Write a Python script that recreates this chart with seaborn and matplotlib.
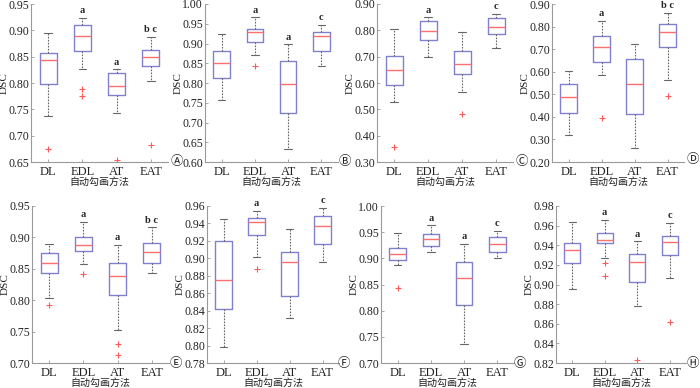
import matplotlib
matplotlib.use("Agg")
import matplotlib.pyplot as plt
import seaborn as sns

methods = ["DL", "EDL", "AT", "EAT"]

# each row: [lower whisker, Q1, median, Q3, upper whisker] for DL, EDL, AT, EAT
box_A = [[0.737, 0.798, 0.844, 0.857, 0.895],
         [0.826, 0.861, 0.890, 0.910, 0.923],
         [0.743, 0.777, 0.795, 0.819, 0.826],
         [0.804, 0.833, 0.850, 0.863, 0.888]]
fliers_A = [[0.675], [0.788, 0.776], [0.653], [0.683]]
marks_A = ["", "a", "a", "b c"]

box_B = [[0.756, 0.813, 0.851, 0.882, 0.925],
         [0.872, 0.904, 0.929, 0.937, 0.966],
         [0.632, 0.724, 0.798, 0.856, 0.898],
         [0.843, 0.881, 0.918, 0.928, 0.947]]
fliers_B = [[], [0.843], [], []]
marks_B = ["", "a", "a", "c"]

box_C = [[0.526, 0.592, 0.648, 0.702, 0.804],
         [0.697, 0.762, 0.796, 0.834, 0.849],
         [0.567, 0.634, 0.674, 0.722, 0.795],
         [0.734, 0.787, 0.814, 0.845, 0.862]]
fliers_C = [[0.356], [], [0.481], []]
marks_C = ["", "a", "", "c"]

box_D = [[0.321, 0.417, 0.486, 0.545, 0.601],
         [0.585, 0.644, 0.710, 0.760, 0.825],
         [0.263, 0.414, 0.545, 0.656, 0.725],
         [0.563, 0.708, 0.775, 0.810, 0.862]]
fliers_D = [[], [0.395], [], [0.492]]
marks_D = ["", "a", "", "b c"]

box_E = [[0.803, 0.843, 0.860, 0.875, 0.890],
         [0.858, 0.878, 0.888, 0.901, 0.925],
         [0.752, 0.808, 0.838, 0.859, 0.888],
         [0.844, 0.859, 0.876, 0.891, 0.916]]
fliers_E = [[0.792], [0.842], [0.730, 0.713], []]
marks_E = ["", "a", "a", "b c"]

box_F = [[0.798, 0.842, 0.875, 0.920, 0.945],
         [0.901, 0.927, 0.942, 0.946, 0.954],
         [0.832, 0.857, 0.896, 0.907, 0.934],
         [0.896, 0.916, 0.937, 0.948, 0.958]]
fliers_F = [[], [0.888], [], []]
marks_F = ["", "a", "", "c"]

box_G = [[0.888, 0.896, 0.908, 0.919, 0.949],
         [0.913, 0.924, 0.936, 0.946, 0.963],
         [0.737, 0.810, 0.862, 0.893, 0.927],
         [0.901, 0.913, 0.928, 0.940, 0.953]]
fliers_G = [[0.843], [], [], []]
marks_G = ["", "a", "a", "c"]

box_H = [[0.895, 0.922, 0.935, 0.942, 0.9635],
         [0.927, 0.942, 0.945, 0.952, 0.966],
         [0.878, 0.903, 0.923, 0.931, 0.944],
         [0.907, 0.930, 0.943, 0.949, 0.963]]
fliers_H = [[], [0.922, 0.909], [0.823], [0.862]]
marks_H = ["", "a", "a", "c"]

# y axis ranges and tick steps
ylims = {"A": (0.65, 0.95, 0.05), "B": (0.60, 1.00, 0.05), "C": (0.30, 0.90, 0.10),
         "D": (0.20, 0.90, 0.10), "E": (0.70, 0.95, 0.05), "F": (0.78, 0.96, 0.02),
         "G": (0.70, 1.00, 0.05), "H": (0.82, 0.98, 0.02)}

panels = {"A": (box_A, fliers_A, marks_A), "B": (box_B, fliers_B, marks_B),
          "C": (box_C, fliers_C, marks_C), "D": (box_D, fliers_D, marks_D),
          "E": (box_E, fliers_E, marks_E), "F": (box_F, fliers_F, marks_F),
          "G": (box_G, fliers_G, marks_G), "H": (box_H, fliers_H, marks_H)}

sns.set_style("ticks")
plt.rcParams["font.family"] = ["Liberation Serif", "DejaVu Serif"]

W, H = 700, 388
fig = plt.figure(figsize=(7, 3.88), dpi=100)

# axes rectangles in pixels: left, right, top, bottom
rects = {"A": (31, 168, 4, 162), "B": (205, 338, 4, 162),
         "C": (377, 513, 4, 162), "D": (552, 684, 4, 162),
         "E": (32, 169, 206, 363), "F": (207, 339, 206, 363),
         "G": (381, 514, 206, 363), "H": (556, 686, 206, 363)}
circles = {"A": (177, 161), "B": (345, 161), "C": (522, 161), "D": (693, 160),
           "E": (176, 364), "F": (344, 364), "G": (520, 364), "H": (693, 364)}
circ_chars = {"A": "Ⓐ", "B": "Ⓑ", "C": "Ⓒ", "D": "Ⓓ",
              "E": "Ⓔ", "F": "Ⓕ", "G": "Ⓖ", "H": "Ⓗ"}

axis_gray = "#9a9a9a"

for key, (boxes, fliers, marks) in panels.items():
    l, r, t, b = rects[key]
    ax = fig.add_axes([l / W, 1 - b / H, (r - l) / W, (b - t) / H])
    stats = []
    for m, s, f in zip(methods, boxes, fliers):
        stats.append(dict(label=m, whislo=s[0], q1=s[1], med=s[2], q3=s[3],
                          whishi=s[4], fliers=f))
    ax.bxp(stats, positions=[1, 2, 3, 4], widths=0.5, capwidths=0.22,
           boxprops=dict(color="#8080d0", lw=1.0),
           medianprops=dict(color="#ff6f6f", lw=1.0),
           whiskerprops=dict(color="#666666", lw=0.8, ls=(0, (1.5, 1.2))),
           capprops=dict(color="#666666", lw=0.8),
           flierprops=dict(marker="+", markeredgecolor="#ff5a5a",
                           markersize=4, markeredgewidth=0.8, linestyle="none"))
    for i, (s, mk) in enumerate(zip(boxes, marks)):
        if mk:
            ax.annotate(mk, xy=(i + 1, s[4]), xytext=(0, 2),
                        textcoords="offset points", ha="center", va="bottom",
                        fontsize=7.5, fontweight="bold")
    lo, hi, step = ylims[key]
    n = int(round((hi - lo) / step))
    ticks = [lo + k * step for k in range(n + 1)]
    ax.set_ylim(lo, hi)
    ax.set_yticks(ticks)
    ax.set_yticklabels([f"{v:.2f}" for v in ticks])
    ax.set_xlim(0.5, 4.5)
    ax.set_xticks([1, 2, 3, 4])
    ax.set_xticklabels(methods)
    ax.tick_params(direction="in", length=2.5, width=0.6, color=axis_gray,
                   labelsize=8.5, pad=1.5, labelcolor="#222222")
    ax.tick_params(axis="x", labelsize=9, pad=3)
    sns.despine(ax=ax)
    for sp in ("left", "bottom"):
        ax.spines[sp].set_color(axis_gray)
        ax.spines[sp].set_linewidth(0.8)
    aw, ah = r - l, b - t
    ax.set_ylabel("DSC", fontsize=8, color="#222222")
    ax.yaxis.set_label_coords(-22 / aw, 0.5)
    ax.set_xlabel("自动勾画方法", fontsize=7.2, color="#222222",
                  family=["Noto Sans CJK SC", "DejaVu Sans"])
    ax.xaxis.set_label_coords(0.5, -15 / ah)
    cx, cy = circles[key]
    fig.text(cx / W, 1 - cy / H, circ_chars[key], ha="center", va="center",
             fontsize=9, family=["Noto Sans CJK SC", "DejaVu Sans"],
             color="#222222")

fig.savefig("out.png", dpi=100)
